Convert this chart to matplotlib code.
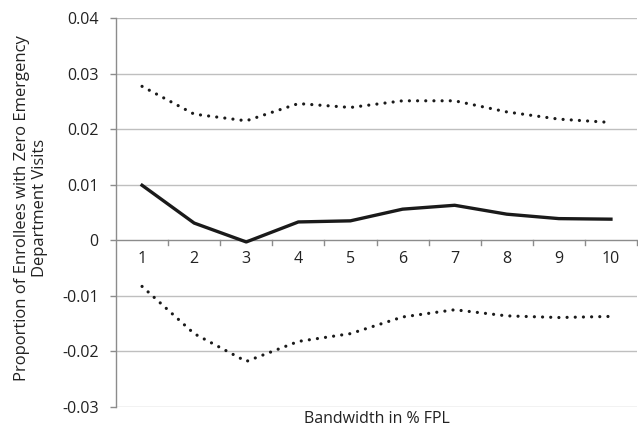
import matplotlib
matplotlib.use("Agg")
import matplotlib.pyplot as plt
import numpy as np

plt.rcParams['font.family'] = ['Open Sans', 'DejaVu Sans']

bandwidths = ["1", "2", "3", "4", "5", "6", "7", "8", "9", "10"]
estimate = [0.0099, 0.0031, -0.0003, 0.0033, 0.0035, 0.0056, 0.0063, 0.0047, 0.0039, 0.0038]
upper_ci = [0.0277, 0.0227, 0.0215, 0.0246, 0.0239, 0.0251, 0.0251, 0.0231, 0.0218, 0.0212]
lower_ci = [-0.0083, -0.0168, -0.0218, -0.0182, -0.0168, -0.0138, -0.0125, -0.0136, -0.0139, -0.0137]
y_ticks = [-0.03, -0.02, -0.01, 0, 0.01, 0.02, 0.03, 0.04]
y_tick_labels = ["-0.03", "-0.02", "-0.01", "0", "0.01", "0.02", "0.03", "0.04"]

fig = plt.figure(figsize=(6.38, 4.30), dpi=100)
ax = fig.add_axes([116 / 638, 1 - 407 / 430, (637 - 116) / 638, (407 - 18) / 430])

x = np.arange(len(bandwidths)) + 0.5

grid_col = "#bfbfbf"
axis_col = "#8c8c8c"
txt_col = "#222222"
fs = 11.5

for t in y_ticks:
    if t != 0:
        ax.axhline(t, color=grid_col, lw=1.0, zorder=1)

# x axis drawn at y = 0 with tick marks between categories
ax.axhline(0, color=axis_col, lw=1.0, zorder=2)
for b in range(1, len(bandwidths) + 1):
    ax.plot([b, b], [0, -0.0009], color=axis_col, lw=1.0, zorder=2, clip_on=False)
for xi, lab in zip(x, bandwidths):
    ax.text(xi, -0.0033, lab, ha="center", va="center", fontsize=fs, color=txt_col)

dot_style = dict(color="#1a1a1a", lw=2.3, linestyle=(0, (0.01, 2.55)),
                 dash_capstyle="round", zorder=3)
ax.plot(x, upper_ci, **dot_style)
ax.plot(x, lower_ci, **dot_style)
ax.plot(x, estimate, color="#1a1a1a", lw=2.4, solid_joinstyle="round", zorder=4)

ax.set_xlim(0, len(bandwidths))
ax.set_ylim(-0.03, 0.04)
ax.set_yticks(y_ticks)
ax.set_yticklabels(y_tick_labels)
ax.set_xticks([])
ax.tick_params(axis="y", length=4.5, width=1.0, color=axis_col, labelsize=fs,
               labelcolor=txt_col, pad=8)
for side in ["top", "right", "bottom"]:
    ax.spines[side].set_visible(False)
ax.spines["left"].set_color(axis_col)
ax.spines["left"].set_linewidth(1.0)

fig.text(377 / 638, 1 - 419 / 430, "Bandwidth in % FPL", ha="center", va="center",
         fontsize=fs, color=txt_col)
fig.text(31 / 638, 1 - 208 / 430,
         "Proportion of Enrollees with Zero Emergency\nDepartment Visits",
         rotation=90, ha="center", va="center", multialignment="center",
         fontsize=12, color=txt_col, linespacing=1.2)

fig.savefig("out.png", dpi=100)
